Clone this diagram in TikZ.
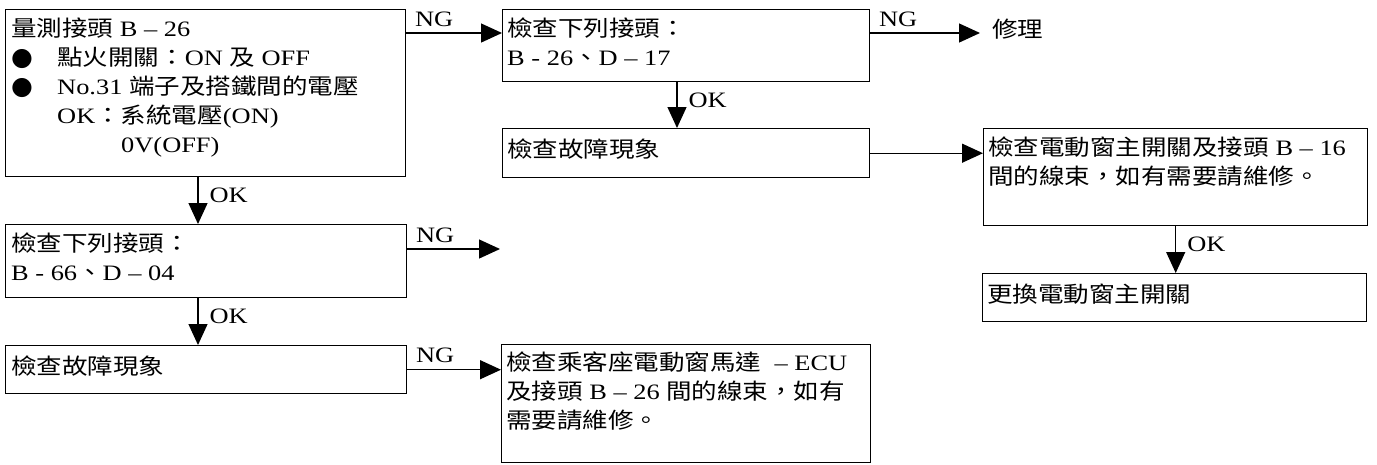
\documentclass[tikz,border=0pt]{standalone}
\usepackage{fontspec}
\setmainfont{Liberation Serif}[FakeStretch=1.2]
\newfontfamily\cjk{Noto Sans CJK TC}[FakeStretch=1.16]
\newfontfamily\dotfont{DejaVu Sans}
\usetikzlibrary{positioning, arrows.meta, calc}
\newcommand{\zh}[1]{{\cjk #1}}
\newcommand{\dotitem}{\makebox[46pt][l]{\fontsize{25}{29}\dotfont ●}}

\begin{document}
\begin{tikzpicture}[
    x=1pt, y=-1pt,
    every node/.style={font=\fontsize{22}{29}\selectfont},
    frame/.style={draw, line width=1.4pt, anchor=north west, inner sep=0pt},
    txt/.style={anchor=north west, inner sep=0pt, align=left,
      execute at begin node={\rule{0pt}{20pt}}},
    arr/.style={line width=1.3pt, -{Triangle[length=21pt, width=19pt]}},
    nglab/.style={pos=0, anchor=base west, xshift=8pt, yshift=7pt, inner sep=0pt},
    oklab/.style={pos=0.5, anchor=base west, xshift=11pt, yshift=-2pt, inner sep=0pt},
  ]
  \useasboundingbox (0,0) rectangle (1377,464);

  % left column
  \node[frame, minimum width=400pt, minimum height=167pt] (meas) at (5,9) {};
  \node[txt] (meastxt) at ([shift={(6pt,-9pt)}]meas.north west)
    {\zh{量測接頭} B – 26\\
     \dotitem\zh{點火開關：}ON \zh{及} OFF\\
     \dotitem No.31 \zh{端子及搭鐵間的電壓}\\
     \hspace*{46pt}OK\zh{：系統電壓}(ON)\\
     \hspace*{110pt}0V(OFF)};
  \node[frame, minimum width=401pt, minimum height=73pt] (conn2) at (5,224) {};
  \node[txt] (conn2txt) at ([shift={(6pt,-9pt)}]conn2.north west)
    {\zh{檢查下列接頭：}\\B - 66\zh{、}D – 04};
  \node[frame, minimum width=401pt, minimum height=48pt] (sym2) at (5,345) {};
  \node[txt] (sym2txt) at ([shift={(6pt,-9pt)}]sym2.north west) {\zh{檢查故障現象}};

  % middle column
  \node[frame, minimum width=367pt, minimum height=72pt] (conn1) at (502,9) {};
  \node[txt] (conn1txt) at ([shift={(5pt,-9pt)}]conn1.north west)
    {\zh{檢查下列接頭：}\\B - 26\zh{、}D – 17};
  \node[frame, minimum width=367pt, minimum height=49pt] (sym1) at (502,128) {};
  \node[txt] (sym1txt) at ([shift={(5pt,-9pt)}]sym1.north west) {\zh{檢查故障現象}};
  \node[frame, minimum width=369pt, minimum height=118pt] (motor) at (501,344) {};
  \node[txt] (motortxt) at ([shift={(5pt,-8pt)}]motor.north west)
    {\zh{檢查乘客座電動窗馬達}~ – ECU\\
     \zh{及接頭} B – 26 \zh{間的線束，如有}\\
     \zh{需要請維修。}};
  \node[anchor=base west, inner sep=0pt] (fix) at (992,37) {\zh{修理}};

  % right column
  \node[frame, minimum width=384pt, minimum height=97pt] (mainsw) at (983,128) {};
  \node[txt] (mainswtxt) at ([shift={(5pt,-9pt)}]mainsw.north west)
    {\zh{檢查電動窗主開關及接頭} B – 16\\
     \zh{間的線束，如有需要請維修。}};
  \node[frame, minimum width=384pt, minimum height=48pt] (swap) at (982,273) {};
  \node[txt] (swaptxt) at ([shift={(5pt,-9pt)}]swap.north west) {\zh{更換電動窗主開關}};

  \coordinate (ngfree) at (500,249);

  % connectors
  \draw[arr] ([yshift=-24pt]meas.north east) -- node[nglab]{NG} ([yshift=-24pt]conn1.north west);
  \draw[arr, shorten >=12pt] ([yshift=-24pt]conn1.north east) -- node[nglab]{NG} ([yshift=-24pt]conn1.north east -| fix.west);
  \draw[arr] ([xshift=175pt]conn1.south west) -- node[oklab]{OK} ([xshift=175pt]conn1.south west |- sym1.north);
  \draw[arr] (sym1.east) -- (sym1.east -| mainsw.west);
  \draw[arr] (mainsw.south) -- node[oklab]{OK} (mainsw.south |- swap.north);
  \draw[arr] ([xshift=193pt]meas.south west) -- node[oklab]{OK} ([xshift=193pt]meas.south west |- conn2.north);
  \draw[arr] ([yshift=-25pt]conn2.north east) -- node[nglab]{NG} (ngfree);
  \draw[arr] ([xshift=193pt]conn2.south west) -- node[oklab]{OK} ([xshift=193pt]conn2.south west |- sym2.north);
  \draw[arr] (sym2.east) -- node[nglab]{NG} (sym2.east -| motor.west);
\end{tikzpicture}
\end{document}
